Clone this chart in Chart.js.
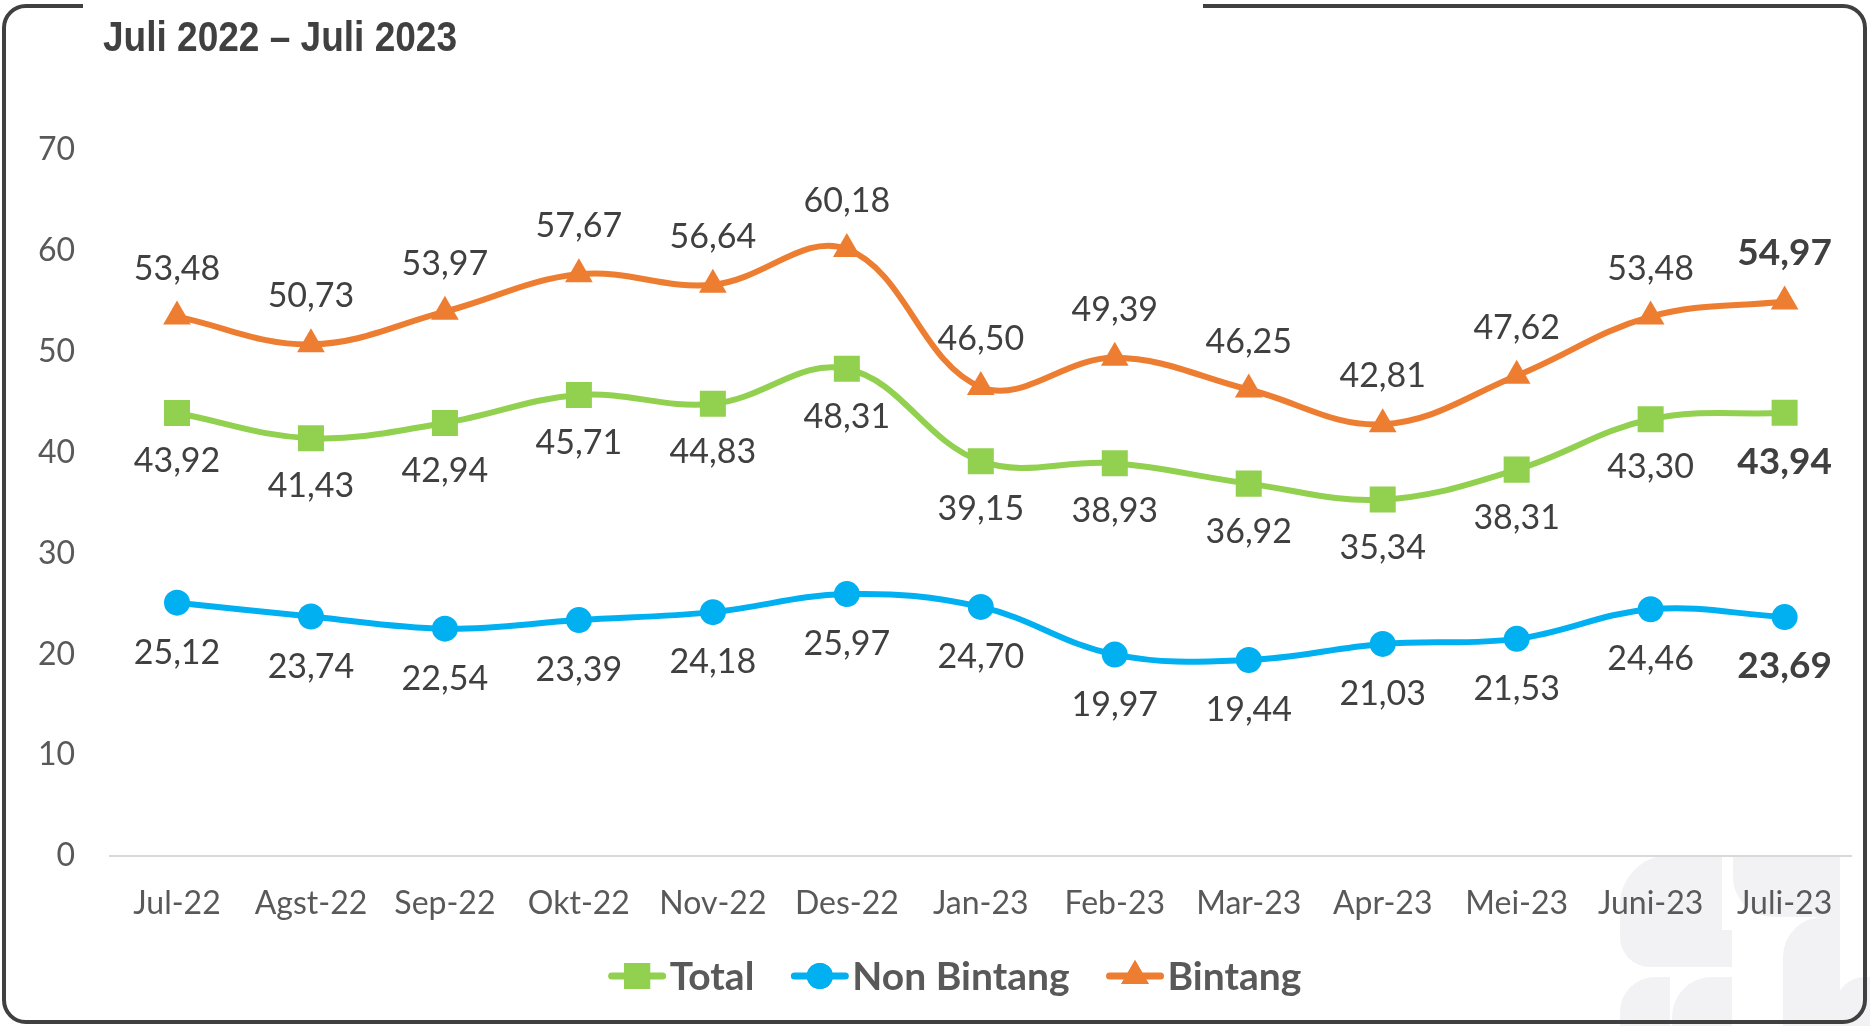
<!DOCTYPE html>
<html><head><meta charset="utf-8">
<script src="https://cdn.jsdelivr.net/npm/chart.js@4.4.0/dist/chart.umd.min.js"></script>
<style>html,body{margin:0;padding:0;background:#fff;overflow:hidden}#wrap{position:relative;width:1870px;height:1026px}</style>
</head><body><div id="wrap"><canvas id="c"></canvas></div>
<script>
const categories = ['Jul-22','Agst-22','Sep-22','Okt-22','Nov-22','Des-22','Jan-23','Feb-23','Mar-23','Apr-23','Mei-23','Juni-23','Juli-23'];
const totalValues = [43.92,41.43,42.94,45.71,44.83,48.31,39.15,38.93,36.92,35.34,38.31,43.30,43.94];
const nonBintangValues = [25.12,23.74,22.54,23.39,24.18,25.97,24.70,19.97,19.44,21.03,21.53,24.46,23.69];
const bintangValues = [53.48,50.73,53.97,57.67,56.64,60.18,46.50,49.39,46.25,42.81,47.62,53.48,54.97];
const yTicks = [0,10,20,30,40,50,60,70];
const seriesNames = ['Total','Non Bintang','Bintang'];
const labelSides = ['below','below','above'];
const titleText = 'Juli 2022 \u2013 Juli 2023';

const GREEN = '#92D050', BLUE = '#00B0F0', ORANGE = '#ED7D31';

function fmt(v){ return v.toFixed(2).replace('.', ','); }

const framePlugin = {
  id: 'frame',
  beforeDraw(chart){
    const ctx = chart.ctx;
    ctx.save();
    // watermark shapes (decorative)
    ctx.fillStyle = '#F2F2F4';
    const rr = (x,y,w,h,r) => { ctx.beginPath(); ctx.roundRect(x,y,w,h,r); ctx.fill(); };
    rr(1620, 855, 102, 112, [50,0,0,30]);
    rr(1700, 930, 32, 37, [0,0,0,0]);
    rr(1733, 855, 107, 62, [0,0,0,40]);
    rr(1620, 977, 50, 60, [35,0,0,0]);
    rr(1672, 977, 60, 60, [40,0,0,0]);
    rr(1783, 917, 57, 110, [40,0,0,0]);
    rr(1835, 977, 40, 60, [30,0,0,0]);
    // frame
    ctx.strokeStyle = '#404040';
    ctx.lineWidth = 4;
    ctx.lineJoin = 'round';
    const L = 4, T = 6, R = 1865, B = 1022, r = 22;
    ctx.beginPath();
    ctx.moveTo(83, T);
    ctx.lineTo(L + r, T);
    ctx.arcTo(L, T, L, T + r, r);
    ctx.lineTo(L, B - r);
    ctx.arcTo(L, B, L + r, B, r);
    ctx.lineTo(R - r, B);
    ctx.arcTo(R, B, R, B - r, r);
    ctx.lineTo(R, T + r);
    ctx.arcTo(R, T, R - r, T, r);
    ctx.lineTo(1203, T);
    ctx.stroke();
    // title
    ctx.fillStyle = '#404040';
    ctx.font = 'bold 43px "Liberation Sans", Arial, sans-serif';
    ctx.textBaseline = 'alphabetic';
    ctx.textAlign = 'left';
    const w = ctx.measureText(titleText).width;
    ctx.translate(103, 51);
    ctx.scale(354 / w, 1);
    ctx.fillText(titleText, 0, 0);
    ctx.restore();
  }
};

const labelPlugin = {
  id: 'valueLabels',
  afterDatasetsDraw(chart){
    const ctx = chart.ctx;
    ctx.save();
    ctx.textAlign = 'center';
    ctx.textBaseline = 'middle';
    ctx.fillStyle = '#404040';
    chart.data.datasets.forEach((ds, di) => {
      const meta = chart.getDatasetMeta(di);
      meta.data.forEach((el, i) => {
        const last = i === ds.data.length - 1;
        ctx.font = last ? 'bold 37px Lato, sans-serif' : '34px Lato, sans-serif';
        const off = last ? 49 : (di === 1 ? 50 : 48);
        const y = labelSides[di] === 'above' ? el.y - off : el.y + off;
        ctx.fillText(fmt(ds.data[i]), el.x, y);
      });
    });
    ctx.restore();
  }
};

const legendPlugin = {
  id: 'lineLegend',
  afterDraw(chart){
    const ctx = chart.ctx;
    ctx.save();
    ctx.font = 'bold 39px Lato, sans-serif';
    ctx.textBaseline = 'middle';
    ctx.textAlign = 'left';
    const lineLen = 57, gapTxt = 4, gapItem = 37;
    const items = chart.data.datasets.map(ds => ({ds, tw: ctx.measureText(ds.label).width}));
    const total = items.reduce((s, it) => s + lineLen + gapTxt + it.tw, 0) + gapItem * (items.length - 1);
    let x = 955 - total / 2;
    const y = 976;
    items.forEach(it => {
      const ds = it.ds;
      ctx.strokeStyle = ds.borderColor;
      ctx.lineWidth = 7;
      ctx.lineCap = 'round';
      ctx.beginPath(); ctx.moveTo(x + 3, y); ctx.lineTo(x + lineLen - 3, y); ctx.stroke();
      ctx.fillStyle = ds.borderColor;
      ctx.beginPath();
      Chart.helpers.drawPoint(ctx, {pointStyle: ds.pointStyle, radius: ds.pointRadius, rotation: 0, borderWidth: 0}, x + lineLen / 2, y);
      ctx.fill();
      ctx.fillStyle = '#595959';
      ctx.fillText(ds.label, x + lineLen + gapTxt, y + 1);
      x += lineLen + gapTxt + it.tw + gapItem;
    });
    ctx.restore();
  }
};

function mkDs(label, data, color, style, radius){
  return {
    label, data,
    borderColor: color, backgroundColor: color,
    pointBackgroundColor: color, pointBorderColor: color,
    borderWidth: 6, pointStyle: style, pointRadius: radius, pointHoverRadius: radius,
    pointBorderWidth: 0, tension: 0.38, cubicInterpolationMode: 'default'
  };
}

new Chart(document.getElementById('c'), {
  type: 'line',
  data: {
    labels: categories,
    datasets: [
      mkDs(seriesNames[0], totalValues, GREEN, 'rect', 18.4),
      mkDs(seriesNames[1], nonBintangValues, BLUE, 'circle', 13),
      mkDs(seriesNames[2], bintangValues, ORANGE, 'triangle', 16)
    ]
  },
  options: {
    responsive: true,
    maintainAspectRatio: false,
    animation: false,
    events: [],
    layout: { padding: { top: 150, left: 0, right: 16, bottom: 0 } },
    plugins: { legend: { display: false }, title: { display: false }, tooltip: { enabled: false } },
    scales: {
      x: {
        offset: true,
        grid: { display: false, drawTicks: false },
        border: { display: true, color: '#D9D9D9', width: 2 },
        ticks: { color: '#595959', font: { family: 'Lato', size: 32 }, padding: 28, maxRotation: 0, autoSkip: false },
        afterFit: s => { s.height = 170; }
      },
      y: {
        min: 0, max: 70,
        grid: { display: false, drawTicks: false },
        border: { display: false },
        ticks: { color: '#595959', font: { family: 'Lato', size: 32 }, padding: 35, callback: v => String(v) },
        afterBuildTicks: s => { s.ticks = yTicks.map(v => ({ value: v })); },
        afterFit: s => { s.width = 110; }
      }
    }
  },
  plugins: [framePlugin, labelPlugin, legendPlugin]
});
</script>
</body></html>
